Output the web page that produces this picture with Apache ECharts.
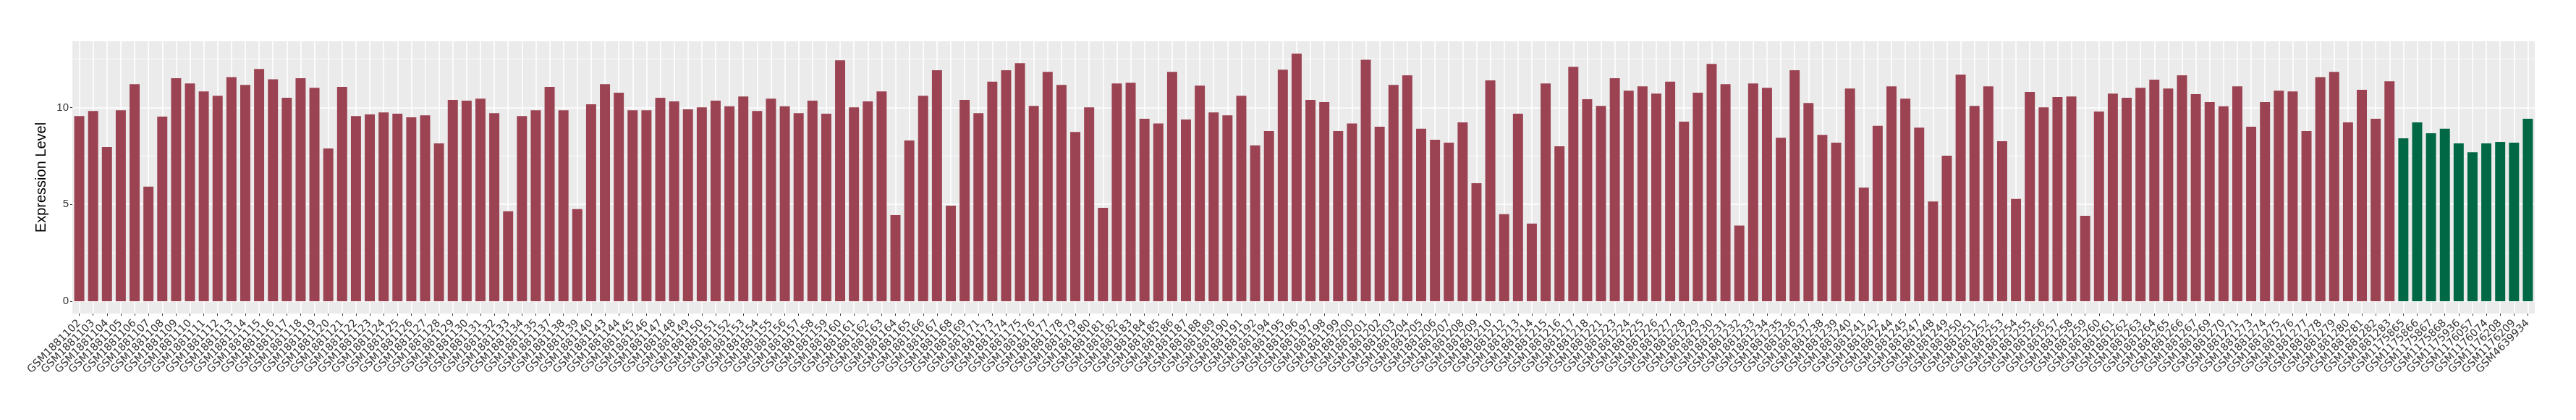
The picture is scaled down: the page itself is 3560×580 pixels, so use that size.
<!DOCTYPE html>
<html>
<head>
<meta charset="utf-8">
<style>
  html, body { margin: 0; padding: 0; background: #ffffff; }
  #chart { width: 3560px; height: 580px; }
</style>
<script src="https://cdn.jsdelivr.net/npm/echarts@6/dist/echarts.min.js"></script>
</head>
<body>
<div id="chart"></div>
<script>
// ---- data ----
const tumorSamples = [
  'GSM1881102','GSM1881103','GSM1881104','GSM1881105','GSM1881106','GSM1881107','GSM1881108','GSM1881109','GSM1881110','GSM1881111',
  'GSM1881112','GSM1881113','GSM1881114','GSM1881115','GSM1881116','GSM1881117','GSM1881118','GSM1881119','GSM1881120','GSM1881121',
  'GSM1881122','GSM1881123','GSM1881124','GSM1881125','GSM1881126','GSM1881127','GSM1881128','GSM1881129','GSM1881130','GSM1881131',
  'GSM1881132','GSM1881133','GSM1881134','GSM1881135','GSM1881137','GSM1881138','GSM1881139','GSM1881140','GSM1881143','GSM1881144',
  'GSM1881145','GSM1881146','GSM1881147','GSM1881148','GSM1881149','GSM1881150','GSM1881151','GSM1881152','GSM1881153','GSM1881154',
  'GSM1881155','GSM1881156','GSM1881157','GSM1881158','GSM1881159','GSM1881160','GSM1881161','GSM1881162','GSM1881163','GSM1881164',
  'GSM1881165','GSM1881166','GSM1881167','GSM1881168','GSM1881169','GSM1881171','GSM1881173','GSM1881174','GSM1881175','GSM1881176',
  'GSM1881177','GSM1881178','GSM1881179','GSM1881180','GSM1881181','GSM1881182','GSM1881183','GSM1881184','GSM1881185','GSM1881186',
  'GSM1881187','GSM1881188','GSM1881189','GSM1881190','GSM1881191','GSM1881192','GSM1881194','GSM1881195','GSM1881196','GSM1881197',
  'GSM1881198','GSM1881199','GSM1881200','GSM1881201','GSM1881202','GSM1881203','GSM1881204','GSM1881205','GSM1881206','GSM1881207',
  'GSM1881208','GSM1881209','GSM1881210','GSM1881212','GSM1881213','GSM1881214','GSM1881215','GSM1881216','GSM1881217','GSM1881218',
  'GSM1881221','GSM1881223','GSM1881224','GSM1881225','GSM1881226','GSM1881227','GSM1881228','GSM1881229','GSM1881230','GSM1881231',
  'GSM1881232','GSM1881233','GSM1881234','GSM1881235','GSM1881236','GSM1881237','GSM1881238','GSM1881239','GSM1881240','GSM1881241',
  'GSM1881242','GSM1881244','GSM1881245','GSM1881247','GSM1881248','GSM1881249','GSM1881250','GSM1881251','GSM1881252','GSM1881253',
  'GSM1881254','GSM1881255','GSM1881256','GSM1881257','GSM1881258','GSM1881259','GSM1881260','GSM1881261','GSM1881262','GSM1881263',
  'GSM1881264','GSM1881265','GSM1881266','GSM1881267','GSM1881269','GSM1881270','GSM1881271','GSM1881273','GSM1881274','GSM1881275',
  'GSM1881276','GSM1881277','GSM1881278','GSM1881279','GSM1881280','GSM1881281','GSM1881282','GSM1881283'
];
const tumorValues = [
  9.56, 9.82, 7.96, 9.86, 11.20, 5.91, 9.53, 11.51, 11.24, 10.83,
  10.61, 11.57, 11.17, 11.99, 11.46, 10.50, 11.51, 11.02, 7.89, 11.06,
  9.56, 9.64, 9.75, 9.68, 9.49, 9.60, 8.15, 10.39, 10.35, 10.46,
  9.71, 4.64, 9.56, 9.86, 11.06, 9.86, 4.75, 10.17, 11.20, 10.76,
  9.86, 9.86, 10.50, 10.32, 9.90, 10.01, 10.35, 10.06, 10.57, 9.82,
  10.46, 10.06, 9.71, 10.35, 9.68, 12.44, 10.01, 10.32, 10.83, 4.45,
  8.30, 10.61, 11.92, 4.93, 10.39, 9.71, 11.33, 11.92, 12.29, 10.08,
  11.84, 11.17, 8.74, 10.01, 4.82, 11.24, 11.28, 9.42, 9.18, 11.84,
  9.38, 11.13, 9.75, 9.60, 10.61, 8.04, 8.78, 11.95, 12.78, 10.39,
  10.28, 8.78, 9.18, 12.47, 9.01, 11.17, 11.66, 8.90, 8.33, 8.18,
  9.23, 6.09, 11.40, 4.49, 9.68, 4.01, 11.24, 8.00, 12.10, 10.43,
  10.08, 11.51, 10.87, 11.09, 10.72, 11.33, 9.27, 10.76, 12.25, 11.20,
  3.90, 11.24, 11.02, 8.44, 11.92, 10.23, 8.59, 8.18, 10.98, 5.87,
  9.05, 11.09, 10.46, 8.96, 5.15, 7.51, 11.70, 10.08, 11.09, 8.26,
  5.28, 10.80, 10.01, 10.54, 10.57, 4.41, 9.79, 10.72, 10.50, 11.02,
  11.44, 10.98, 11.66, 10.69, 10.28, 10.06, 11.09, 9.01, 10.28, 10.87,
  10.83, 8.78, 11.57, 11.84, 9.23, 10.91, 9.42, 11.35
];
const normalSamples = [
  'GSM1175865','GSM1175866','GSM1175867','GSM1175868','GSM1175936',
  'GSM1176057','GSM1176074','GSM1176208','GSM1176209','GSM4639934'
];
const normalValues = [8.41, 9.23, 8.67, 8.90, 8.15, 7.69, 8.15, 8.22, 8.18, 9.42];
const yTickValues = [0, 5, 10];
const yMinorValues = [2.5, 7.5, 12.5];
const yTitle = 'Expression Level';

// ---- derived ----
const categories = tumorSamples.concat(normalSamples);
const tumorColor = '#9B4352';
const normalColor = '#006845';
const barData = tumorValues.map(v => ({ value: v, itemStyle: { color: tumorColor } }))
  .concat(normalValues.map(v => ({ value: v, itemStyle: { color: normalColor } })));
const allValues = tumorValues.concat(normalValues);
const dataMax = Math.max.apply(null, allValues);
const yMin = -dataMax * 0.05;
const yMax = dataMax * 1.05;
const catIndices = categories.map((c, i) => i);

const font = '"Liberation Sans", Arial, Helvetica, sans-serif';
const xFont = '"DejaVu Sans", sans-serif';
const chart = echarts.init(document.getElementById('chart'), null, { renderer: 'canvas' });
chart.setOption({
  animation: false,
  backgroundColor: '#ffffff',
  textStyle: { fontFamily: font },
  grid: {
    left: 100, right: 57, top: 57, bottom: 147,
    show: true, backgroundColor: '#EBEBEB', borderWidth: 0
  },
  xAxis: [
    {
      type: 'category',
      data: categories,
      boundaryGap: true,
      axisLine: { show: false, onZero: false },
      axisTick: { show: true, alignWithLabel: true, interval: 0, length: 3, lineStyle: { color: '#333333', width: 1 } },
      axisLabel: { interval: 0, rotate: 45, fontSize: 14.5, color: '#333333', margin: 11, fontFamily: xFont },
      splitLine: { show: false }
    },
    {
      type: 'value',
      min: -0.5,
      max: categories.length - 0.5,
      position: 'bottom',
      axisLine: { show: false, onZero: false },
      axisTick: { show: false, customValues: catIndices },
      axisLabel: { show: false, customValues: catIndices },
      splitLine: { show: true, lineStyle: { color: '#FFFFFF', width: 1.6 } }
    }
  ],
  yAxis: [
    {
      type: 'value',
      min: yMin,
      max: yMax,
      name: yTitle,
      nameLocation: 'middle',
      nameGap: 27,
      nameTextStyle: { fontSize: 20, color: '#000000', fontFamily: font },
      axisLine: { show: false, onZero: false },
      axisTick: { show: true, customValues: yTickValues, length: 3, lineStyle: { color: '#333333', width: 1 } },
      axisLabel: { customValues: yTickValues, fontSize: 15, color: '#333333', margin: 5, fontFamily: font },
      splitLine: { show: true, lineStyle: { color: '#FFFFFF', width: 1.6 } }
    },
    {
      type: 'value',
      min: yMin,
      max: yMax,
      position: 'left',
      axisLine: { show: false, onZero: false },
      axisTick: { show: false, customValues: yMinorValues },
      axisLabel: { show: false, customValues: yMinorValues },
      splitLine: { show: true, lineStyle: { color: '#FFFFFF', width: 0.8 } }
    }
  ],
  series: [
    {
      type: 'bar',
      xAxisIndex: 0,
      yAxisIndex: 0,
      data: barData,
      barWidth: '73%',
      z: 3
    }
  ]
});
</script>
</body>
</html>
